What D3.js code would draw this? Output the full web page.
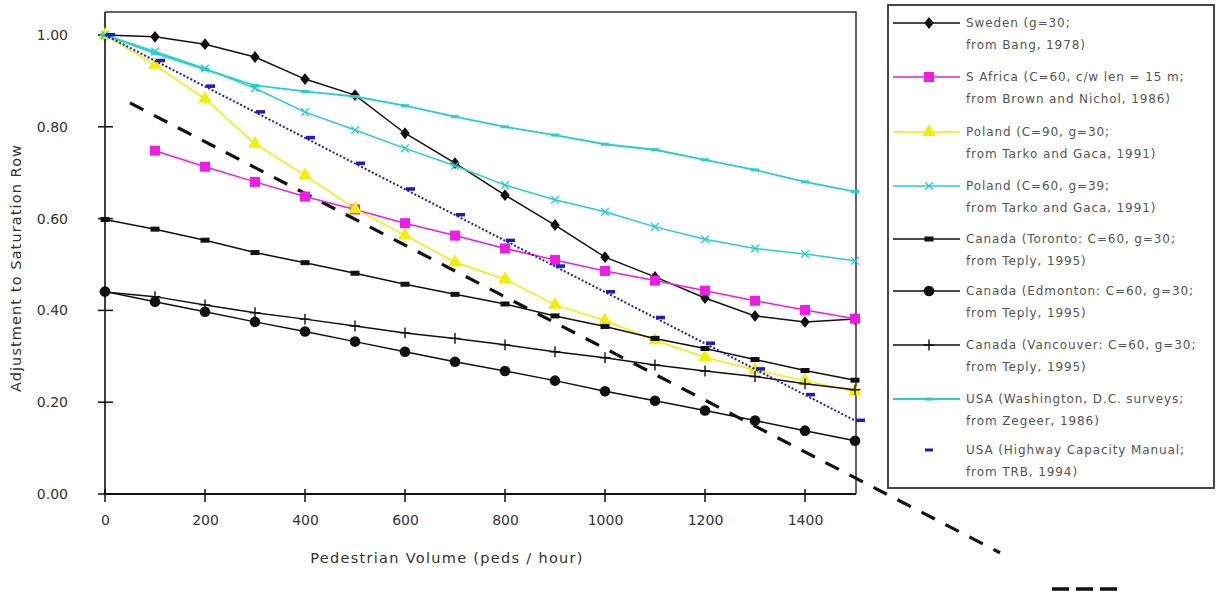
<!DOCTYPE html>
<html>
<head>
<meta charset="utf-8">
<script src="https://cdn.jsdelivr.net/npm/d3@7"></script>
<style>
  body { margin: 0; background: #fff; }
  svg { display: block; font-family: "DejaVu Sans", Verdana, sans-serif; }
</style>
</head>
<body>
<div id="chart"></div>
<script>
// pedestrian volume (peds / hour)
var volumes = [0, 100, 200, 300, 400, 500, 600, 700, 800, 900, 1000, 1100, 1200, 1300, 1400, 1500]

var sweden     = [1.00, 0.996, 0.98, 0.952, 0.904, 0.869, 0.786, 0.721, 0.651, 0.586, 0.516, 0.473, 0.427, 0.388, 0.375, 0.381]
var sAfrica    = [null, 0.748, 0.713, 0.680, 0.648, 0.620, 0.590, 0.563, 0.535, 0.510, 0.486, 0.465, 0.443, 0.421, 0.401, 0.382]
var polandC90  = [1.00, 0.935, 0.861, 0.763, 0.694, 0.621, 0.564, 0.505, 0.468, 0.412, 0.378, 0.335, 0.298, 0.270, 0.247, 0.223]
var polandC60  = [1.00, 0.964, 0.927, 0.884, 0.832, 0.793, 0.753, 0.715, 0.673, 0.641, 0.615, 0.582, 0.555, 0.535, 0.523, 0.508]
var toronto    = [0.598, 0.577, 0.553, 0.526, 0.504, 0.481, 0.457, 0.435, 0.414, 0.388, 0.365, 0.339, 0.317, 0.293, 0.269, 0.248]
var edmonton   = [0.441, 0.419, 0.397, 0.375, 0.354, 0.332, 0.310, 0.288, 0.268, 0.247, 0.224, 0.203, 0.182, 0.160, 0.138, 0.116]
var vancouver  = [0.440, 0.430, 0.412, 0.395, 0.381, 0.366, 0.351, 0.339, 0.325, 0.310, 0.297, 0.281, 0.268, 0.256, 0.240, 0.227]
var washington = [1.00, 0.96, 0.925, 0.89, 0.877, 0.866, 0.846, 0.822, 0.80, 0.782, 0.762, 0.75, 0.728, 0.706, 0.68, 0.659]
var hcm        = [1.00, 0.944, 0.888, 0.832, 0.776, 0.72, 0.664, 0.608, 0.552, 0.496, 0.44, 0.384, 0.328, 0.272, 0.216, 0.16]

// the long dashed line runs past the axis
var dashVolumes = [50, 1790]
var dashValues = [0.852, -0.128]

var xTicks = [0, 200, 400, 600, 800, 1000, 1200, 1400]
var yTicks = [0, 0.2, 0.4, 0.6, 0.8, 1.0]

var legendLabels = [
  ["Sweden (g=30;", "from Bang, 1978)"],
  ["S Africa (C=60, c/w len = 15 m;", "from Brown and Nichol, 1986)"],
  ["Poland (C=90, g=30;", "from Tarko and Gaca, 1991)"],
  ["Poland (C=60, g=39;", "from Tarko and Gaca, 1991)"],
  ["Canada (Toronto: C=60, g=30;", "from Teply, 1995)"],
  ["Canada (Edmonton: C=60, g=30;", "from Teply, 1995)"],
  ["Canada (Vancouver: C=60, g=30;", "from Teply, 1995)"],
  ["USA (Washington, D.C. surveys;", "from Zegeer, 1986)"],
  ["USA (Highway Capacity Manual;", "from TRB, 1994)"]
]

var width = 1225, height = 596

var svg = d3.select("#chart").append("svg")
    .attr("width", width)
    .attr("height", height)

var x = d3.scaleLinear().domain([0, 1500]).range([105, 855])
var y = d3.scaleLinear().domain([0, 1]).range([494, 35])

// frame (top + right)
svg.append("path")
    .attr("d", "M" + x(0) + "," + y(1.05) + "H" + (x(1500) + 1) + "V" + y(0))
    .attr("fill", "none")
    .attr("stroke", "#333")
    .attr("stroke-width", 1.5)

// axes
var xAxis = d3.axisBottom(x).tickValues(xTicks).tickSize(0).tickPadding(21).tickFormat(d3.format("d"))
var gx = svg.append("g").attr("transform", "translate(0," + y(0) + ")").call(xAxis)
gx.select(".domain").remove()
gx.selectAll("text").attr("font-size", 14).attr("fill", "#333").attr("font-family", "DejaVu Sans, Verdana, sans-serif")

var yAxis = d3.axisLeft(y).tickValues(yTicks).tickSize(0).tickPadding(37).tickFormat(d3.format(".2f"))
var gy = svg.append("g").attr("transform", "translate(" + x(0) + ",0)").call(yAxis)
gy.select(".domain").remove()
gy.selectAll("text").attr("font-size", 14).attr("fill", "#333").attr("font-family", "DejaVu Sans, Verdana, sans-serif")

svg.append("line")
    .attr("x1", x(0)).attr("x2", x(0))
    .attr("y1", y(1.05)).attr("y2", y(0))
    .attr("stroke", "#111").attr("stroke-width", 1.6)
svg.append("line")
    .attr("x1", x(0) - 1).attr("x2", x(1500) + 1)
    .attr("y1", y(0)).attr("y2", y(0))
    .attr("stroke", "#111").attr("stroke-width", 2.2)

// crossing tick marks
svg.selectAll(".ytick").data(yTicks).enter().append("line")
    .attr("x1", x(0) - 7).attr("x2", x(0) + 8)
    .attr("y1", function(d) { return y(d) }).attr("y2", function(d) { return y(d) })
    .attr("stroke", "#111").attr("stroke-width", 1.5)
svg.selectAll(".xtick").data(xTicks).enter().append("line")
    .attr("x1", function(d) { return x(d) }).attr("x2", function(d) { return x(d) })
    .attr("y1", y(0) - 5).attr("y2", y(0) + 8)
    .attr("stroke", "#111").attr("stroke-width", 1.5)

svg.append("text")
    .attr("x", 447).attr("y", 563)
    .attr("text-anchor", "middle")
    .attr("font-size", 14.5).attr("fill", "#333")
    .attr("letter-spacing", 1.3)
    .text("Pedestrian Volume (peds / hour)")

svg.append("text")
    .attr("transform", "translate(21,268) rotate(-90)")
    .attr("text-anchor", "middle")
    .attr("font-size", 14.5).attr("fill", "#333")
    .attr("letter-spacing", 1.1)
    .text("Adjustment to Saturation Row")

// series definitions: values + look
var series = [
  {values: sweden, color: "#111", width: 1.5, marker: "diamond"},
  {values: sAfrica, color: "#ee1ce4", width: 1.5, marker: "square"},
  {values: polandC90, color: "#f0f000", width: 1.5, marker: "triangle"},
  {values: polandC60, color: "#22d0d0", width: 1.5, marker: "times"},
  {values: toronto, color: "#111", width: 1.5, marker: "rect"},
  {values: edmonton, color: "#111", width: 1.5, marker: "circle"},
  {values: vancouver, color: "#111", width: 1.5, marker: "plus"},
  {values: washington, color: "#22d0d0", width: 1.8, marker: "dash"},
  {values: hcm, color: "#1c1cc0", width: 2, marker: "hcm", dash: "2,2"}
]

var line = d3.line()
    .defined(function(d) { return d[1] != null })
    .x(function(d) { return x(d[0]) })
    .y(function(d) { return y(d[1]) })

function drawMarker(g, kind, color, cx, cy) {
  if (kind == "diamond") {
    g.append("path").attr("d", d3.symbol(d3.symbolDiamond, 50)()).attr("transform", "translate(" + cx + "," + cy + ") scale(1.25,0.9)").attr("fill", color)
  } else if (kind == "square") {
    g.append("rect").attr("x", cx - 5).attr("y", cy - 5).attr("width", 10).attr("height", 10).attr("fill", color)
  } else if (kind == "triangle") {
    g.append("path").attr("d", d3.symbol(d3.symbolTriangle, 80)()).attr("transform", "translate(" + cx + "," + cy + ")").attr("fill", color)
  } else if (kind == "times") {
    g.append("path").attr("d", d3.symbol(d3.symbolTimes, 40)()).attr("transform", "translate(" + cx + "," + cy + ")").attr("fill", "none").attr("stroke", color).attr("stroke-width", 1.3)
  } else if (kind == "rect") {
    g.append("rect").attr("x", cx - 4.5).attr("y", cy - 2.5).attr("width", 9).attr("height", 5).attr("fill", color)
  } else if (kind == "circle") {
    g.append("circle").attr("cx", cx).attr("cy", cy).attr("r", 5.3).attr("fill", color)
  } else if (kind == "plus") {
    g.append("path").attr("d", d3.symbol(d3.symbolPlus, 40)()).attr("transform", "translate(" + cx + "," + cy + ")").attr("fill", "none").attr("stroke", color).attr("stroke-width", 1.4)
  } else if (kind == "dash") {
    g.append("rect").attr("x", cx - 4).attr("y", cy - 1.5).attr("width", 8).attr("height", 3).attr("fill", color)
  } else if (kind == "hcm") {
    g.append("rect").attr("x", cx + 1).attr("y", cy - 2).attr("width", 9).attr("height", 3.5).attr("fill", color)
  }
}

// long dashed reference line
svg.append("path")
    .attr("d", line(d3.zip(dashVolumes, dashValues)))
    .attr("fill", "none")
    .attr("stroke", "#111")
    .attr("stroke-width", 3.2)
    .attr("stroke-dasharray", "15,12")

series.forEach(function(s) {
  var pts = d3.zip(volumes, s.values)
  var g = svg.append("g")
  g.append("path")
      .attr("d", line(pts))
      .attr("fill", "none")
      .attr("stroke", s.color)
      .attr("stroke-width", s.width)
      .attr("stroke-dasharray", s.dash || null)
  pts.filter(function(d) { return d[1] != null }).forEach(function(d) {
    drawMarker(g, s.marker, s.color, x(d[0]), y(d[1]))
  })
})

// legend
var legend = svg.append("g")
legend.append("rect")
    .attr("x", 888).attr("y", 5).attr("width", 326).attr("height", 483)
    .attr("fill", "#fff").attr("stroke", "#333").attr("stroke-width", 1.8)

var legendY = [23, 77, 132, 186, 239, 291, 345, 399, 450]
series.forEach(function(s, i) {
  var ly = legendY[i]
  if (s.marker != "hcm") {
    legend.append("line")
        .attr("x1", 893).attr("x2", 960)
        .attr("y1", ly).attr("y2", ly)
        .attr("stroke", s.color).attr("stroke-width", s.width)
  }
  drawMarker(legend, s.marker == "hcm" ? "dash" : s.marker, s.color, 929, ly)
  legend.selectAll(null).data(legendLabels[i]).enter().append("text")
      .attr("x", 966)
      .attr("y", function(d, j) { return ly + 4 + j * 22 })
      .attr("font-size", 12)
      .attr("letter-spacing", 0.9)
      .attr("fill", "#555")
      .text(function(d) { return d })
})

// stray legend sample for the dashed line
svg.append("line")
    .attr("x1", 1052).attr("x2", 1118)
    .attr("y1", 589).attr("y2", 589)
    .attr("stroke", "#111").attr("stroke-width", 3.5)
    .attr("stroke-dasharray", "17,7")
</script>
</body>
</html>
